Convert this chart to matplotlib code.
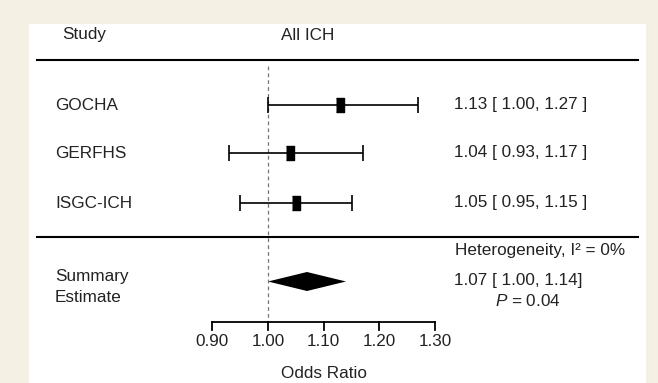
import matplotlib
matplotlib.use("Agg")
import matplotlib.pyplot as plt
import matplotlib.transforms as mtransforms
from matplotlib.patches import Rectangle

# data
studies = ["GOCHA", "GERFHS", "ISGC-ICH"]
odds = [1.13, 1.04, 1.05]
lower = [1.00, 0.93, 0.95]
upper = [1.27, 1.17, 1.15]
summary_or, summary_lo, summary_hi = 1.07, 1.00, 1.14
heterogeneity = 0
p_value = 0.04
ticks = [0.90, 1.00, 1.10, 1.20, 1.30]

plt.rcParams["font.family"] = ["Liberation Sans", "DejaVu Sans"]
plt.rcParams["mathtext.fontset"] = "custom"
plt.rcParams["mathtext.it"] = "Liberation Sans:italic"
plt.rcParams["mathtext.rm"] = "Liberation Sans"

W, H = 658, 383
fig = plt.figure(figsize=(W / 100, H / 100), dpi=100)
fig.patch.set_facecolor("#f4f0e4")
fig.add_artist(Rectangle((29 / W, 0), (646 - 29) / W, (H - 24) / H,
                         transform=fig.transFigure, facecolor="white",
                         edgecolor="none", zorder=-5))

# x in odds ratio units (1.00 at px 268, 0.10 per 55.7 px), y in pixel rows
ax = fig.add_axes([0, 0, 1, 1])
ax.set_facecolor("none")
ax.set_zorder(2)
scale = 0.1 / 55.7
ax.set_xlim(1.0 - 268 * scale, 1.0 + (W - 268) * scale)
ax.set_ylim(H, 0)
ax.axis("off")

# pixel transform for text placement
pix = mtransforms.Affine2D().scale(1 / W, -1 / H).translate(0, 1) + fig.transFigure
fs = 12.3
tc = "#222222"

ax.text(62, 35, "Study", transform=pix, fontsize=fs, color=tc, va="center")
ax.text(281, 35, "All ICH", transform=pix, fontsize=fs, color=tc, va="center")

# horizontal rules
ax.plot([37, 638], [60, 60], transform=pix, color="black", lw=1.5)
ax.plot([37, 638], [237, 237], transform=pix, color="black", lw=1.5)

# reference line at OR = 1
ax.plot([1.0, 1.0], [66, 322], color="#777777", lw=0.9, ls=(0, (3, 2.5)))

row_y = [105, 153, 203]
box = [(-0.27, -0.5), (0.27, -0.5), (0.27, 0.5), (-0.27, 0.5)]
for name, o, lo, hi, y in zip(studies, odds, lower, upper, row_y):
    ax.errorbar(o, y, xerr=[[o - lo], [hi - o]], fmt="none", ecolor="black",
                elinewidth=1.2, capsize=6, capthick=1.2)
    ax.plot(o, y, marker=box, markersize=9.4, color="black", ls="none")
    ax.text(55, y, name, transform=pix, fontsize=fs, color=tc, va="center")
    ax.text(454, y, f"{o:.2f} [ {lo:.2f}, {hi:.2f} ]", transform=pix,
            fontsize=fs, color=tc, va="center")

# summary diamond
sy, dh = 281.5, 9.5
ax.fill([summary_lo, summary_or, summary_hi, summary_or],
        [sy, sy - dh, sy, sy + dh], color="black", lw=0)
ax.text(55, 277, "Summary", transform=pix, fontsize=fs, color=tc, va="center")
ax.text(55, 297, "Estimate", transform=pix, fontsize=fs, color=tc, va="center")
ax.text(455, 251, f"Heterogeneity, I\u00b2 = {heterogeneity}%", transform=pix,
        fontsize=fs, color=tc, va="center")
ax.text(454, 281, f"{summary_or:.2f} [ {summary_lo:.2f}, {summary_hi:.2f}]",
        transform=pix, fontsize=fs, color=tc, va="center")
ax.text(495, 301, f"$P$ = {p_value:.2f}", transform=pix, fontsize=fs,
        color=tc, va="center")

# odds ratio axis
ax_y = 322
ax.plot([ticks[0], ticks[-1]], [ax_y, ax_y], color="black", lw=1.3)
for t in ticks:
    ax.plot([t, t], [ax_y, ax_y + 8], color="black", lw=1.3)
    ax.text(t, ax_y + 19, f"{t:.2f}", fontsize=fs, color=tc,
            ha="center", va="center")
ax.text(sum(ticks) / len(ticks), 373, "Odds Ratio", fontsize=fs, color=tc,
        ha="center", va="center")

fig.savefig("out.png", dpi=100, facecolor=fig.get_facecolor())
